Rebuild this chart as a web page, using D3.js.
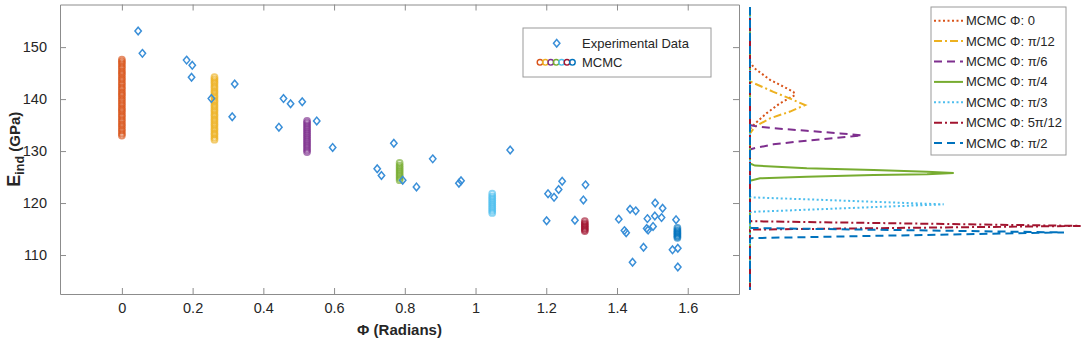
<!DOCTYPE html>
<html>
<head>
<meta charset="utf-8">
<script src="https://cdn.jsdelivr.net/npm/d3@7"></script>
<style>
    body { margin: 0; background: #fff; }
    text { font-family: "Liberation Sans", Arial, sans-serif; fill: #262626; }
    .axis path, .axis line { stroke: #8c8c8c; }
    .axis text { font-size: 14.5px; fill: #262626; }
</style>
</head>
<body>
<svg id="chart" width="1084" height="344"></svg>
<script>
// ---- data ----
// experimental measurements (phi in radians, E_ind in GPa)
const expPhi = [0.046, 0.058, 0.183, 0.199, 0.197, 0.253, 0.319, 0.312, 0.457, 0.477,
    0.510, 0.444, 0.551, 0.596, 0.769, 0.722, 0.734, 0.794, 0.879, 0.833,
    0.953, 0.959, 1.098, 1.205, 1.222, 1.235, 1.201, 1.245, 1.281, 1.305,
    1.311, 1.405, 1.421, 1.426, 1.437, 1.453, 1.444, 1.475, 1.486, 1.484,
    1.488, 1.502, 1.508, 1.507, 1.526, 1.529, 1.567, 1.557, 1.572, 1.572];
const expE = [153.1, 148.8, 147.5, 146.5, 144.2, 140.1, 142.9, 136.6, 140.1, 139.1,
    139.5, 134.6, 135.8, 130.7, 131.5, 126.6, 125.3, 124.4, 128.5, 123.1,
    123.8, 124.3, 130.2, 121.8, 121.1, 122.6, 116.6, 124.2, 116.7, 120.6,
    123.5, 116.9, 114.7, 114.3, 118.8, 118.5, 108.6, 111.5, 117.0, 115.1,
    114.8, 115.5, 120.0, 117.5, 117.2, 119.0, 116.8, 111.0, 111.3, 107.7];

// MCMC runs, one per orientation
const mcmcPhi = [0, 0.2618, 0.5236, 0.7854, 1.0472, 1.3090, 1.5708];
const mcmcNames = ["0", "π/12", "π/6", "π/4", "π/3", "5π/12", "π/2"];
const mcmcColors = ["#D95319", "#EDB120", "#7E2F8E", "#77AC30", "#4DBEEE", "#A2142F", "#0072BD"];
const mcmcDash = ["2,2.5", "8,3,2,3", "8,5", null, "2,2.5", "8,3,2,3", "8,5"];

const mcmcSamples = [
    [133.0, 133.4, 133.9, 134.3, 134.8, 135.2, 135.7, 136.1, 136.6, 137.0, 137.5, 137.9,
        138.3, 138.8, 139.2, 139.7, 140.1, 140.6, 141.0, 141.4, 141.9, 142.3, 142.8, 143.2,
        143.7, 144.1, 144.6, 145.0, 145.4, 145.9, 146.3, 146.8, 147.2, 147.6],
    [132.2, 132.6, 133.1, 133.5, 134.0, 134.4, 134.9, 135.3, 135.8, 136.2, 136.7, 137.1,
        137.6, 138.0, 138.5, 138.9, 139.4, 139.8, 140.3, 140.7, 141.2, 141.6, 142.1, 142.5,
        143.0, 143.4, 143.8, 144.2],
    [129.8, 130.2, 130.6, 131.0, 131.4, 131.8, 132.2, 132.6, 133.0, 133.4, 133.8, 134.2,
        134.6, 135.0, 135.4, 135.8],
    [124.4, 124.8, 125.2, 125.6, 126.0, 126.4, 126.8, 127.2, 127.7],
    [118.1, 118.5, 118.9, 119.3, 119.7, 120.1, 120.5, 120.9, 121.3, 121.8],
    [114.6, 114.9, 115.2, 115.5, 115.8, 116.1, 116.5],
    [113.3, 113.6, 113.9, 114.2, 114.5, 114.8, 115.2]
];

// density estimates of the MCMC samples (E value, relative density)
const kdeE = [
    [157.7, 147.2, 146.0, 143.7, 142.4, 141.4, 140.8, 139.2, 137.3, 135.3, 134.3, 103.3],
    [157.7, 143.4, 141.4, 140.1, 138.85, 137.6, 136.3, 134.7, 133.4, 103.3],
    [157.7, 135.0, 134.8, 134.4, 133.9, 133.4, 133.0, 132.6, 132.0, 131.3, 130.5, 130.3, 103.3],
    [157.7, 127.6, 127.2, 126.7, 126.35, 126.0, 125.8, 125.55, 125.4, 125.05, 124.75, 124.3, 103.3],
    [157.7, 121.2, 121.1, 119.75, 118.3, 118.2, 103.3],
    [157.7, 116.6, 116.5, 115.6, 114.9, 114.8, 103.3],
    [157.7, 115.3, 115.2, 114.35, 113.25, 113.15, 103.3]
];
const kdeD = [
    [0, 0, 0.012, 0.06, 0.10, 0.13, 0.135, 0.09, 0.05, 0.015, 0, 0],
    [0, 0, 0.07, 0.12, 0.165, 0.12, 0.06, 0.015, 0, 0],
    [0, 0, 0.015, 0.07, 0.17, 0.27, 0.335, 0.27, 0.17, 0.07, 0.01, 0, 0],
    [0, 0, 0.015, 0.17, 0.37, 0.53, 0.61, 0.53, 0.37, 0.17, 0.03, 0, 0],
    [0, 0, 0.005, 0.58, 0.005, 0, 0],
    [0, 0, 0.005, 0.99, 0.01, 0, 0],
    [0, 0, 0.005, 0.94, 0.005, 0, 0]
];

const xTicks = [0, 0.2, 0.4, 0.6, 0.8, 1, 1.2, 1.4, 1.6];
const yTicks = [110, 120, 130, 140, 150];

// ---- layout ----
const margin = {left: 60, right: 345, top: 4.5, bottom: 50};
const W = 1084, H = 344;
const expColor = "#3A8FD8";

const svg = d3.select("#chart");

let x = d3.scaleLinear().domain([-0.175, 1.745]).range([margin.left, W - margin.right]);
let y = d3.scaleLinear().domain([102.5, 158.2]).range([H - margin.bottom, margin.top]);
let xd = d3.scaleLinear().domain([0, 1]).range([750, 1084]);

// axes box with inward ticks
svg.append("g").attr("class", "axis")
    .attr("transform", `translate(0,${y.range()[0]})`)
    .call(d3.axisBottom(x).tickValues(xTicks).tickSizeInner(-6).tickSizeOuter(0).tickPadding(9)
        .tickFormat(d3.format("~g")));
svg.append("g").attr("class", "axis")
    .attr("transform", `translate(0,${y.range()[1]})`)
    .call(d3.axisTop(x).tickValues(xTicks).tickSizeInner(-6).tickSizeOuter(0).tickFormat(""));
svg.append("g").attr("class", "axis")
    .attr("transform", `translate(${x.range()[0]},0)`)
    .call(d3.axisLeft(y).tickValues(yTicks).tickSizeInner(-6).tickSizeOuter(0).tickPadding(13));
svg.append("g").attr("class", "axis")
    .attr("transform", `translate(${x.range()[1]},0)`)
    .call(d3.axisRight(y).tickValues(yTicks).tickSizeInner(-6).tickSizeOuter(0).tickFormat(""));

// axis labels
svg.append("text")
    .attr("x", (x.range()[0] + x.range()[1]) / 2)
    .attr("y", 335)
    .attr("text-anchor", "middle")
    .style("font-size", "15px").style("font-weight", "bold")
    .text("Φ (Radians)");

let yLab = svg.append("text")
    .attr("transform", `translate(20,${(y.range()[0] + y.range()[1]) / 2}) rotate(-90)`)
    .attr("text-anchor", "middle")
    .style("font-weight", "bold");
yLab.append("tspan").style("font-size", "18px").text("E");
yLab.append("tspan").style("font-size", "12.5px").attr("dy", 4).text("ind");
yLab.append("tspan").style("font-size", "15px").attr("dy", -4).text(" (GPa)");

// MCMC sample columns
mcmcSamples.forEach((samples, i) => {
    svg.append("g").selectAll("circle")
        .data(samples)
        .enter().append("circle")
        .attr("cx", x(mcmcPhi[i]))
        .attr("cy", (d) => y(d))
        .attr("r", 2.9)
        .attr("fill", "none")
        .attr("stroke", mcmcColors[i])
        .attr("stroke-width", 2)
        .attr("stroke-opacity", 0.65);
});

// experimental diamonds
const diamond = "M0,-3.8L3.2,0L0,3.8L-3.2,0Z";
svg.append("g").selectAll("path")
    .data(expPhi.map((p, i) => [p, expE[i]]))
    .enter().append("path")
    .attr("d", diamond)
    .attr("transform", (d) => `translate(${x(d[0])},${y(d[1])})`)
    .attr("fill", "none")
    .attr("stroke", expColor)
    .attr("stroke-width", 1.5);

// legend for scatter
let leg1 = svg.append("g");
leg1.append("rect").attr("x", 523).attr("y", 28).attr("width", 188).attr("height", 49)
    .attr("fill", "#fff").attr("stroke", "#9a9a9a");
leg1.append("path").attr("d", diamond).attr("transform", "translate(556.7,43.3)")
    .attr("fill", "none").attr("stroke", expColor).attr("stroke-width", 1.5);
leg1.append("text").attr("x", 582).attr("y", 48).style("font-size", "13px").text("Experimental Data");
leg1.selectAll("circle").data(mcmcColors).enter().append("circle")
    .attr("cx", (d, i) => 540 + i * 5.4).attr("cy", 62.3).attr("r", 2.8)
    .attr("fill", "none").attr("stroke", (d) => d).attr("stroke-width", 1.4);
leg1.append("text").attr("x", 582).attr("y", 67).style("font-size", "13px").text("MCMC");

// marginal densities
let line = d3.line().x((d) => xd(d[1])).y((d) => y(d[0]));
kdeE.forEach((es, i) => {
    svg.append("path")
        .datum(es.map((e, j) => [e, kdeD[i][j]]))
        .attr("d", line)
        .attr("fill", "none")
        .attr("stroke", mcmcColors[i])
        .attr("stroke-width", 2)
        .attr("stroke-dasharray", mcmcDash[i]);
});

// legend for densities
let leg2 = svg.append("g");
leg2.append("rect").attr("x", 931).attr("y", 7).attr("width", 135).attr("height", 148)
    .attr("fill", "#fff").attr("stroke", "#9a9a9a");
mcmcNames.forEach((name, i) => {
    let ly = 20.7 + i * 20.4;
    leg2.append("line").attr("x1", 934).attr("x2", 963).attr("y1", ly).attr("y2", ly)
        .attr("stroke", mcmcColors[i]).attr("stroke-width", 2)
        .attr("stroke-dasharray", mcmcDash[i]);
    leg2.append("text").attr("x", 966).attr("y", ly + 4.5).style("font-size", "13px")
        .text("MCMC Φ: " + name);
});
</script>
</body>
</html>
